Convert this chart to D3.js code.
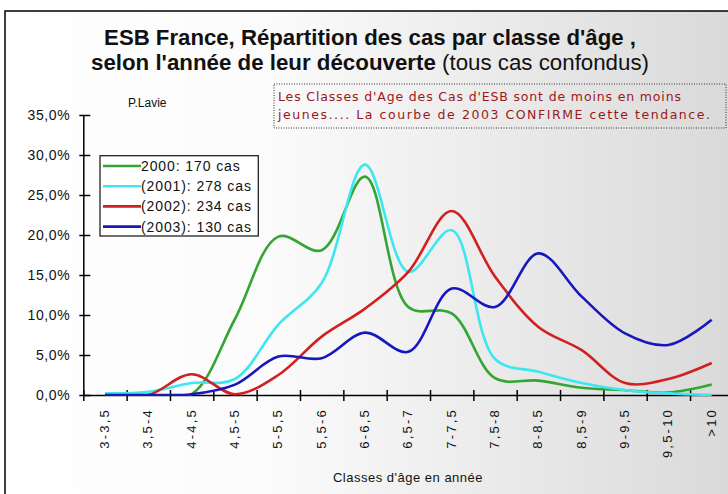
<!DOCTYPE html>
<html><head><meta charset="utf-8">
<script src="https://cdn.jsdelivr.net/npm/d3@7/dist/d3.min.js"></script>
<style>html,body{margin:0;padding:0;background:#fff;}svg{display:block;}</style>
</head><body>
<svg id="c" width="728" height="494"></svg>
<script>
const categories = ["3-3,5","3,5-4","4-4,5","4,5-5","5-5,5","5,5-6","6-6,5","6,5-7","7-7,5","7,5-8","8-8,5","8,5-9","9-9,5","9,5-10",">10"];
const s2000 = [0,0,0.1,9.5,19.8,18.1,27.3,11.0,10.2,2.1,1.8,0.9,0.6,0.3,1.3];
const s2001 = [0.2,0.4,1.5,2.0,8.8,14.0,28.8,15.4,20.6,4.5,2.9,1.5,0.6,0.2,0.0];
const s2002 = [0,0,2.6,0.1,2.5,7.3,10.8,15.4,23.0,14.8,8.5,5.6,1.5,2.0,4.0];
const s2003 = [0,0,0.1,1.3,4.8,4.6,7.8,5.4,13.3,11.0,17.7,12.3,7.7,6.25,9.4];
const seriesNames = ["2000: 170 cas","(2001): 278 cas","(2002): 234 cas","(2003): 130 cas"];
const seriesColors = ["#33a532","#3de6f0","#d21f1f","#1717bd"];
const yTicks = [0,5,10,15,20,25,30,35];

const svg = d3.select("#c");
const defs = svg.append("defs");
const g = defs.append("linearGradient").attr("id","bg").attr("x1","0").attr("x2","1").attr("y1","0").attr("y2","0");
g.append("stop").attr("offset","0").attr("stop-color","#ffffff");
g.append("stop").attr("offset","0.35").attr("stop-color","#fbfbfb");
g.append("stop").attr("offset","1").attr("stop-color","#d7d7d7");
defs.append("clipPath").attr("id","plot").append("rect").attr("x",83).attr("y",100).attr("width",660).attr("height",296);

svg.append("rect").attr("x",5).attr("y",11).attr("width",760).attr("height",500)
  .attr("fill","url(#bg)").attr("stroke","#000").attr("stroke-width",1.5);

// Title (fitted to reference widths)
const FONT = "Liberation Sans, Arial, sans-serif";
function fit(sel, target){
  const w = sel.node().getComputedTextLength();
  const fs = 19 * target / w;
  sel.style("font-size", fs.toFixed(2)+"px");
}
const t1 = svg.append("text").attr("x",370).attr("y",45).attr("text-anchor","middle")
  .style("font-family",FONT).style("font-size","19px").style("font-weight","bold").attr("fill","#111")
  .text("ESB France, Répartition des cas par classe d'âge ,");
fit(t1, 532);
const t2 = svg.append("text").attr("x",370).attr("y",70).attr("text-anchor","middle")
  .style("font-family",FONT).style("font-size","19px").attr("fill","#111");
t2.append("tspan").style("font-weight","bold").text("selon l'année de leur découverte");
t2.append("tspan").text(" (tous cas confondus)");
fit(t2, 558);

// P.Lavie
svg.append("text").attr("x",128).attr("y",107).style("font-family",FONT)
  .style("font-size","12px").attr("fill","#111").text("P.Lavie");

// annotation
svg.append("rect").attr("x",274).attr("y",84).attr("width",452).attr("height",44)
  .attr("fill","none").attr("stroke","#333").attr("stroke-width",1).attr("stroke-dasharray","1,1.5");
const ann = ["Les Classes d'Age des Cas d'ESB sont de moins en moins","jeunes.... La courbe de 2003 CONFIRME cette tendance."];
const annW = [403, 432];
ann.forEach((s,i)=>{
  svg.append("text").attr("x",278).attr("y",101+i*18).attr("textLength",annW[i]).attr("lengthAdjust","spacing")
    .style("font-family","DejaVu Sans, sans-serif").style("font-size","12.5px").attr("fill","#9a1818").text(s);
});

// scales
const x = d3.scaleBand().domain(categories).range([83.3, 733.4]).padding(0);
const y = d3.scaleLinear().domain([0,35]).range([395,115]);
const xc = c => x(c) + x.bandwidth()/2;

// Y axis
const yAxis = d3.axisLeft(y).tickValues(yTicks).tickSizeInner(4).tickSizeOuter(0).tickPadding(9)
  .tickFormat(d => d.toFixed(1).replace(".",",") + "%");
const ya = svg.append("g").attr("transform","translate(83.3,0)").call(yAxis);
ya.select(".domain").attr("stroke","#000").attr("stroke-width",1.5);
ya.selectAll(".tick line").attr("x1",-4).attr("x2",7).attr("stroke","#000").attr("stroke-width",1.5);
ya.selectAll(".tick text").style("font-family",FONT).style("font-size","14px")
  .style("letter-spacing","0.6px").attr("fill","#111");

// X axis (boundaries)
const xLin = d3.scaleLinear().domain([0,categories.length]).range(x.range());
const xAxis = d3.axisBottom(xLin).tickValues(d3.range(0,categories.length+1))
  .tickFormat("").tickSizeOuter(0);
const xa = svg.append("g").attr("transform","translate(0,395)").call(xAxis);
xa.select(".domain").attr("stroke","#000").attr("stroke-width",1.5);
xa.selectAll(".tick line").attr("y1",-5).attr("y2",6).attr("stroke","#000").attr("stroke-width",1.5);

// X labels
svg.append("g").selectAll("text").data(categories).join("text")
  .attr("transform", d => `translate(${xc(d)+4},408) rotate(-90)`)
  .attr("text-anchor","end")
  .style("font-family",FONT).style("font-size","13px")
  .style("letter-spacing","2.2px").attr("fill","#111").text(d=>d);

svg.append("text").attr("x",408).attr("y",482).attr("text-anchor","middle")
  .style("font-family",FONT).style("font-size","13px").style("letter-spacing","0.5px")
  .attr("fill","#111").text("Classes d'âge en année");

// lines
const allSeries = [s2000,s2001,s2002,s2003];
const line = d3.line().x((d,i)=>xc(categories[i])).y(d=>y(d)).curve(d3.curveCatmullRom.alpha(0.5));
const lg = svg.append("g").attr("clip-path","url(#plot)");
allSeries.forEach((s,k)=>{
  lg.append("path").attr("d",line(s)).attr("fill","none").attr("stroke",seriesColors[k])
    .attr("stroke-width",2.6).attr("stroke-linejoin","round");
});

// legend
const leg = svg.append("g");
leg.append("rect").attr("x",100).attr("y",155.7).attr("width",158.3).attr("height",80.3)
  .attr("fill","#fff").attr("stroke","#222").attr("stroke-width",1.3);
seriesNames.forEach((n,i)=>{
  const yy = 166 + i*20.2;
  leg.append("line").attr("x1",103).attr("x2",141).attr("y1",yy).attr("y2",yy)
    .attr("stroke",seriesColors[i]).attr("stroke-width",2.6);
  leg.append("text").attr("x",141).attr("y",yy+5).style("font-family",FONT)
    .style("font-size","14px").style("letter-spacing","0.9px").attr("fill","#111").text(n);
});
</script>
</body></html>
